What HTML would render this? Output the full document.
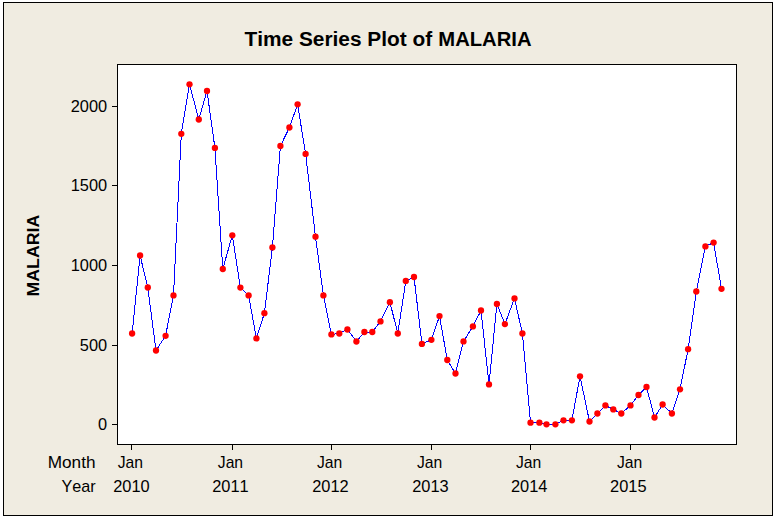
<!DOCTYPE html>
<html><head><meta charset="utf-8"><title>Time Series Plot of MALARIA</title>
<style>
html,body{margin:0;padding:0;background:#fff;}
body{width:776px;height:521px;overflow:hidden;}
svg{display:block;}
text{font-family:"Liberation Sans",sans-serif;fill:#000;font-kerning:none;}
.lbl text{font-size:16.6px;}
</style></head><body>
<svg width="776" height="521" viewBox="0 0 776 521">
<rect x="0" y="0" width="776" height="521" fill="#fff"/>
<g shape-rendering="crispEdges">
<rect x="3.5" y="2.5" width="769" height="513" fill="#F0ECE1" stroke="#000" stroke-width="1"/>
<rect x="117.5" y="64.5" width="619" height="380" fill="#fff" stroke="#000" stroke-width="1"/>
<g fill="#000">
<rect x="131" y="445" width="1" height="5"/>
<rect x="232" y="445" width="1" height="5"/>
<rect x="331" y="445" width="1" height="5"/>
<rect x="431" y="445" width="1" height="5"/>
<rect x="530" y="445" width="1" height="5"/>
<rect x="630" y="445" width="1" height="5"/>
<rect x="112" y="106" width="5" height="1"/>
<rect x="112" y="185" width="5" height="1"/>
<rect x="112" y="265" width="5" height="1"/>
<rect x="112" y="345" width="5" height="1"/>
<rect x="112" y="424" width="5" height="1"/>
</g>
</g>
<text y="45.8" font-size="20.3px" font-weight="bold" id="title"><tspan x="244.4" textLength="193.60" lengthAdjust="spacingAndGlyphs">Time Series Plot of </tspan><tspan x="438.3" textLength="93.20" lengthAdjust="spacingAndGlyphs">MALARIA</tspan></text>
<text transform="translate(39.1,296.4) rotate(-90)" font-size="16.4px" font-weight="bold" id="ylab" textLength="81.60" lengthAdjust="spacingAndGlyphs">MALARIA</text>
<g class="lbl">
<text x="70.70" y="112.4" textLength="36.40" lengthAdjust="spacingAndGlyphs">2000</text>
<text x="70.70" y="191.4" textLength="36.40" lengthAdjust="spacingAndGlyphs">1500</text>
<text x="70.70" y="271.4" textLength="36.40" lengthAdjust="spacingAndGlyphs">1000</text>
<text x="79.80" y="351.4" textLength="27.30" lengthAdjust="spacingAndGlyphs">500</text>
<text x="98.00" y="430.4" textLength="9.10" lengthAdjust="spacingAndGlyphs">0</text>
<text x="47.7" y="467.8" textLength="47.80" lengthAdjust="spacingAndGlyphs">Month</text>
<text x="61.4" y="491.8" textLength="34.20" lengthAdjust="spacingAndGlyphs">Year</text>
<text x="117.70" y="467.8" textLength="25.30" lengthAdjust="spacingAndGlyphs">Jan</text>
<text x="217.80" y="467.8" textLength="25.30" lengthAdjust="spacingAndGlyphs">Jan</text>
<text x="316.90" y="467.8" textLength="25.30" lengthAdjust="spacingAndGlyphs">Jan</text>
<text x="416.90" y="467.8" textLength="25.30" lengthAdjust="spacingAndGlyphs">Jan</text>
<text x="515.90" y="467.8" textLength="25.30" lengthAdjust="spacingAndGlyphs">Jan</text>
<text x="616.90" y="467.8" textLength="25.30" lengthAdjust="spacingAndGlyphs">Jan</text>
<text x="113.20" y="491.8" textLength="36.50" lengthAdjust="spacingAndGlyphs">2010</text>
<text x="212.20" y="491.8" textLength="36.50" lengthAdjust="spacingAndGlyphs">2011</text>
<text x="312.20" y="491.8" textLength="36.50" lengthAdjust="spacingAndGlyphs">2012</text>
<text x="412.20" y="491.8" textLength="36.50" lengthAdjust="spacingAndGlyphs">2013</text>
<text x="511.00" y="491.8" textLength="36.50" lengthAdjust="spacingAndGlyphs">2014</text>
<text x="610.10" y="491.8" textLength="36.50" lengthAdjust="spacingAndGlyphs">2015</text>
</g>
<polyline points="132.1,333.5 140.1,255.5 147.8,287.5 156,350.5 165.6,335.8 173.5,295.4 181.3,133.8 189.5,84.3 198.8,119.5 207,91 214.9,147.9 222.8,269 232.3,235.3 240.4,287.6 248.6,295.4 256.4,338.4 264.4,313.2 272.4,247.4 280.4,146 289.4,127.5 297.6,104.3 305.6,153.9 315.5,236.7 323.4,295.4 331.4,334.4 339.3,333.5 347.4,329.5 356.4,341.5 364.4,332 372.3,332 380.5,321.4 389.9,302.2 397.8,333.5 405.8,280.9 414,277 421.9,343.9 431.4,339.8 439.5,316.1 447.3,360 455.5,373.5 463.5,341.4 472.9,326.4 481,310.5 489,384.4 496.9,304 504.9,324.1 514.5,298.4 522.4,333.5 530.5,422.7 539.4,422.7 546.5,424.3 555.4,424.3 563.5,420.3 571.9,420.3 580,376.3 589.5,421.5 597.4,413.5 605.4,405.4 613.3,409.4 621.3,413.5 630.5,405.4 638.5,395 646.5,387 654.5,417.5 662.6,404.5 671.9,413.5 680,389.3 688.1,349.2 696.3,291.5 705.4,246.4 713.6,242.6 721.5,288.8" fill="none" stroke="#0000FF" stroke-width="1" shape-rendering="crispEdges"/>
<g fill="#FF0000">
<circle cx="132.1" cy="333.5" r="3.15"/>
<circle cx="140.1" cy="255.5" r="3.15"/>
<circle cx="147.8" cy="287.5" r="3.15"/>
<circle cx="156" cy="350.5" r="3.15"/>
<circle cx="165.6" cy="335.8" r="3.15"/>
<circle cx="173.5" cy="295.4" r="3.15"/>
<circle cx="181.3" cy="133.8" r="3.15"/>
<circle cx="189.5" cy="84.3" r="3.15"/>
<circle cx="198.8" cy="119.5" r="3.15"/>
<circle cx="207" cy="91" r="3.15"/>
<circle cx="214.9" cy="147.9" r="3.15"/>
<circle cx="222.8" cy="269" r="3.15"/>
<circle cx="232.3" cy="235.3" r="3.15"/>
<circle cx="240.4" cy="287.6" r="3.15"/>
<circle cx="248.6" cy="295.4" r="3.15"/>
<circle cx="256.4" cy="338.4" r="3.15"/>
<circle cx="264.4" cy="313.2" r="3.15"/>
<circle cx="272.4" cy="247.4" r="3.15"/>
<circle cx="280.4" cy="146" r="3.15"/>
<circle cx="289.4" cy="127.5" r="3.15"/>
<circle cx="297.6" cy="104.3" r="3.15"/>
<circle cx="305.6" cy="153.9" r="3.15"/>
<circle cx="315.5" cy="236.7" r="3.15"/>
<circle cx="323.4" cy="295.4" r="3.15"/>
<circle cx="331.4" cy="334.4" r="3.15"/>
<circle cx="339.3" cy="333.5" r="3.15"/>
<circle cx="347.4" cy="329.5" r="3.15"/>
<circle cx="356.4" cy="341.5" r="3.15"/>
<circle cx="364.4" cy="332" r="3.15"/>
<circle cx="372.3" cy="332" r="3.15"/>
<circle cx="380.5" cy="321.4" r="3.15"/>
<circle cx="389.9" cy="302.2" r="3.15"/>
<circle cx="397.8" cy="333.5" r="3.15"/>
<circle cx="405.8" cy="280.9" r="3.15"/>
<circle cx="414" cy="277" r="3.15"/>
<circle cx="421.9" cy="343.9" r="3.15"/>
<circle cx="431.4" cy="339.8" r="3.15"/>
<circle cx="439.5" cy="316.1" r="3.15"/>
<circle cx="447.3" cy="360" r="3.15"/>
<circle cx="455.5" cy="373.5" r="3.15"/>
<circle cx="463.5" cy="341.4" r="3.15"/>
<circle cx="472.9" cy="326.4" r="3.15"/>
<circle cx="481" cy="310.5" r="3.15"/>
<circle cx="489" cy="384.4" r="3.15"/>
<circle cx="496.9" cy="304" r="3.15"/>
<circle cx="504.9" cy="324.1" r="3.15"/>
<circle cx="514.5" cy="298.4" r="3.15"/>
<circle cx="522.4" cy="333.5" r="3.15"/>
<circle cx="530.5" cy="422.7" r="3.15"/>
<circle cx="539.4" cy="422.7" r="3.15"/>
<circle cx="546.5" cy="424.3" r="3.15"/>
<circle cx="555.4" cy="424.3" r="3.15"/>
<circle cx="563.5" cy="420.3" r="3.15"/>
<circle cx="571.9" cy="420.3" r="3.15"/>
<circle cx="580" cy="376.3" r="3.15"/>
<circle cx="589.5" cy="421.5" r="3.15"/>
<circle cx="597.4" cy="413.5" r="3.15"/>
<circle cx="605.4" cy="405.4" r="3.15"/>
<circle cx="613.3" cy="409.4" r="3.15"/>
<circle cx="621.3" cy="413.5" r="3.15"/>
<circle cx="630.5" cy="405.4" r="3.15"/>
<circle cx="638.5" cy="395" r="3.15"/>
<circle cx="646.5" cy="387" r="3.15"/>
<circle cx="654.5" cy="417.5" r="3.15"/>
<circle cx="662.6" cy="404.5" r="3.15"/>
<circle cx="671.9" cy="413.5" r="3.15"/>
<circle cx="680" cy="389.3" r="3.15"/>
<circle cx="688.1" cy="349.2" r="3.15"/>
<circle cx="696.3" cy="291.5" r="3.15"/>
<circle cx="705.4" cy="246.4" r="3.15"/>
<circle cx="713.6" cy="242.6" r="3.15"/>
<circle cx="721.5" cy="288.8" r="3.15"/>
</g>
</svg>
</body></html>
